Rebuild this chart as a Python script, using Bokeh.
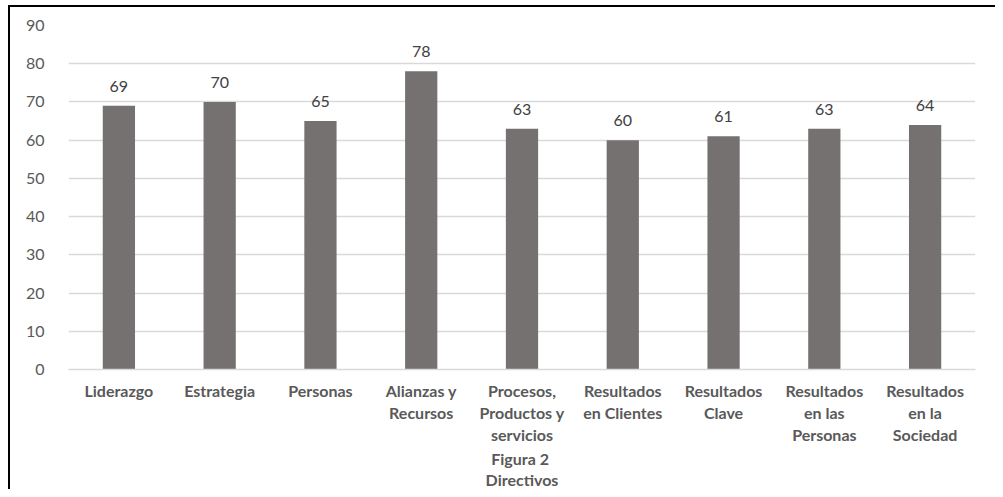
from bokeh.plotting import figure
from bokeh.models import Range1d, FixedTicker, ColumnDataSource, LabelSet, Title
from bokeh.core.properties import value
from bokeh.embed import file_html
from bokeh.resources import INLINE

categories = ["Liderazgo", "Estrategia", "Personas", "Alianzas y\nRecursos",
              "Procesos,\nProductos y\nservicios", "Resultados\nen Clientes",
              "Resultados\nClave", "Resultados\nen las\nPersonas", "Resultados\nen la\nSociedad"]
values = [69, 70, 65, 78, 63, 60, 61, 63, 64]
y_ticks = [0, 10, 20, 30, 40, 50, 60, 70, 80, 90]
caption = ["Figura  2", "Directivos"]

FONT = "Lato"
xs = list(range(len(categories)))
src = ColumnDataSource(dict(x=xs, top=values, lbl=[str(v) for v in values]))

p = figure(width=995, height=489, output_backend="svg", toolbar_location=None,
           x_range=Range1d(-0.5, len(categories) - 0.5), y_range=Range1d(0, 90),
           min_border_left=68, min_border_right=20, min_border_top=25, min_border_bottom=120)
p.styles = {"background": "linear-gradient(#000,#000) 8px 5px / 2px 100% no-repeat, "
                          "linear-gradient(#000,#000) 8px 5px / 100% 2px no-repeat, #fff"}
p.border_fill_color = None
p.outline_line_color = None
p.background_fill_color = "white"

p.vbar(x="x", top="top", width=0.32, source=src, fill_color="#767171", line_color=None)

p.add_layout(LabelSet(x="x", y="top", text="lbl", source=src, text_align="center",
                      text_baseline="bottom", y_offset=14, text_font=value(FONT),
                      text_font_size="16px", text_color="#404040"))

p.yaxis.ticker = FixedTicker(ticks=y_ticks)
p.yaxis.axis_line_color = None
p.yaxis.major_tick_line_color = None
p.yaxis.minor_tick_line_color = None
p.yaxis.major_label_standoff = 18
p.yaxis.major_label_text_font = FONT
p.yaxis.major_label_text_font_size = "16px"
p.yaxis.major_label_text_color = "#595959"

p.xaxis.ticker = FixedTicker(ticks=xs)
p.xaxis.major_label_overrides = {i: c for i, c in enumerate(categories)}
p.xaxis.axis_line_color = "#d9d9d9"
p.xaxis.axis_line_width = 1.5
p.xaxis.major_tick_line_color = None
p.xaxis.minor_tick_line_color = None
p.xaxis.major_label_standoff = 5
p.xaxis.major_label_text_font = FONT
p.xaxis.major_label_text_font_style = "bold"
p.xaxis.major_label_text_font_size = "16px"
p.xaxis.major_label_text_color = "#595959"
p.xaxis.major_label_text_line_height = 1.17

p.xgrid.grid_line_color = None
p.ygrid.grid_line_color = "#d9d9d9"
p.ygrid.grid_line_width = 1.5

for t in caption:
    p.add_layout(Title(text=t, align="center", text_font=FONT, text_font_style="bold",
                       text_font_size="16px", text_color="#595959", standoff=0), "below")

open("out.html", "w").write(file_html(p, INLINE))
